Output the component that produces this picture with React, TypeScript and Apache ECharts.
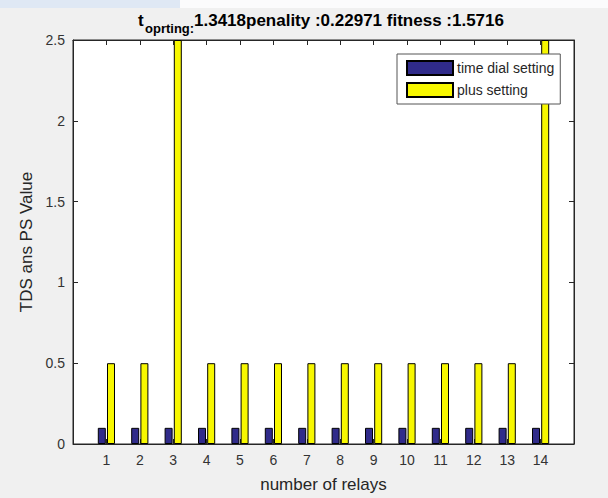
import React, { useEffect, useRef } from "react";
import * as echarts from "echarts";

const relays = [1, 2, 3, 4, 5, 6, 7, 8, 9, 10, 11, 12, 13, 14];
const timeDialSetting = [0.1, 0.1, 0.1, 0.1, 0.1, 0.1, 0.1, 0.1, 0.1, 0.1, 0.1, 0.1, 0.1, 0.1];
const plusSetting = [0.5, 0.5, 2.5, 0.5, 0.5, 0.5, 0.5, 0.5, 0.5, 0.5, 0.5, 0.5, 0.5, 2.5];
const seriesNames = ["time dial setting", "plus setting"];
const titleMain = "1.3418penality :0.22971 fitness :1.5716";
const titleT = "t";
const titleSub = "oprting:";
const xName = "number of relays";
const yName = "TDS ans PS Value";

const AX = "#262626";
const FONT = "'Liberation Sans', Arial, Helvetica, sans-serif";

const inTick = () => ({ show: true, inside: true, length: 5, lineStyle: { color: AX, width: 1 } });
const axLine = () => ({ show: true, onZero: false, lineStyle: { color: AX, width: 1 } });

export default function App() {
  const ref = useRef<HTMLDivElement>(null);
  useEffect(() => {
    document.body.style.margin = "0";
    const chart = echarts.init(ref.current!, null, { renderer: "svg" });
    chart.setOption({
      animation: false,
      backgroundColor: "#f0f0f0",
      textStyle: { fontFamily: FONT },
      grid: {
        left: 73,
        right: 34,
        top: 40,
        bottom: 52,
        show: true,
        backgroundColor: "#ffffff",
        borderColor: AX,
        borderWidth: 1,
      },
      legend: {
        left: 397,
        top: 54,
        orient: "vertical",
        data: seriesNames.map((n) => ({ name: n, icon: "rect" })),
        backgroundColor: "#ffffff",
        borderColor: "#555555",
        borderWidth: 1,
        padding: [6, 6, 6, 9],
        itemWidth: 46,
        itemHeight: 14,
        itemGap: 6,
        textStyle: { fontSize: 14, color: AX, fontFamily: FONT, lineHeight: 14, padding: [0, 0, 0, -1] },
        selectedMode: false,
      },
      xAxis: [
        {
          type: "value",
          min: 0,
          max: 15,
          interval: 1,
          position: "bottom",
          name: xName,
          nameLocation: "middle",
          nameGap: 32,
          nameTextStyle: { fontSize: 17, color: AX, fontFamily: FONT },
          axisLine: axLine(),
          axisTick: inTick(),
          splitLine: { show: false },
          axisLabel: {
            fontSize: 14,
            color: "#333333",
            margin: 9,
            fontFamily: FONT,
            formatter: (v: number) => (v === 0 || v === 15 ? "" : String(v)),
          },
        },
        {
          type: "value",
          min: 0,
          max: 15,
          interval: 1,
          position: "top",
          axisLine: axLine(),
          axisTick: inTick(),
          axisLabel: { show: false },
          splitLine: { show: false },
        },
      ],
      yAxis: [
        {
          type: "value",
          min: 0,
          max: 2.5,
          interval: 0.5,
          position: "left",
          name: yName,
          nameLocation: "middle",
          nameGap: 35,
          nameTextStyle: { fontSize: 17, color: AX, fontFamily: FONT },
          axisLine: axLine(),
          axisTick: inTick(),
          splitLine: { show: false },
          axisLabel: { fontSize: 14, color: "#333333", margin: 8, fontFamily: FONT },
        },
        {
          type: "value",
          min: 0,
          max: 2.5,
          interval: 0.5,
          position: "right",
          axisLine: axLine(),
          axisTick: inTick(),
          axisLabel: { show: false },
          splitLine: { show: false },
        },
      ],
      series: [
        {
          name: seriesNames[0],
          type: "bar",
          xAxisIndex: 0,
          yAxisIndex: 0,
          barWidth: 8,
          barGap: "15%",
          clip: true,
          itemStyle: { color: "#302b8a", borderColor: "#000000", borderWidth: 1 },
          data: relays.map((r, i) => [r, timeDialSetting[i]]),
        },
        {
          name: seriesNames[1],
          type: "bar",
          xAxisIndex: 0,
          yAxisIndex: 0,
          barWidth: 8,
          barGap: "15%",
          clip: true,
          itemStyle: { color: "#f7f700", borderColor: "#000000", borderWidth: 1 },
          data: relays.map((r, i) => [r, plusSetting[i]]),
        },
      ],
      graphic: [
        { type: "rect", left: 0, top: 0, shape: { width: 608, height: 8 }, style: { fill: "#fbfbfc" }, z: 0 },
        { type: "rect", left: 0, top: 0, shape: { width: 180, height: 8 }, style: { fill: "#dfe8f4" }, z: 0 },
        {
          type: "text",
          x: 138,
          y: 20,
          style: { text: titleT, font: `bold 17px ${FONT}`, fill: "#000", verticalAlign: "middle" },
          z: 10,
        },
        {
          type: "text",
          x: 145,
          y: 28,
          style: { text: titleSub, font: `bold 13px ${FONT}`, fill: "#000", verticalAlign: "middle" },
          z: 10,
        },
        {
          type: "text",
          x: 194,
          y: 20,
          style: { text: titleMain, font: `bold 17px ${FONT}`, fill: "#000", verticalAlign: "middle" },
          z: 10,
        },
      ],
    });
    return () => chart.dispose();
  }, []);
  return <div ref={ref} style={{ width: 608, height: 498 }} />;
}
